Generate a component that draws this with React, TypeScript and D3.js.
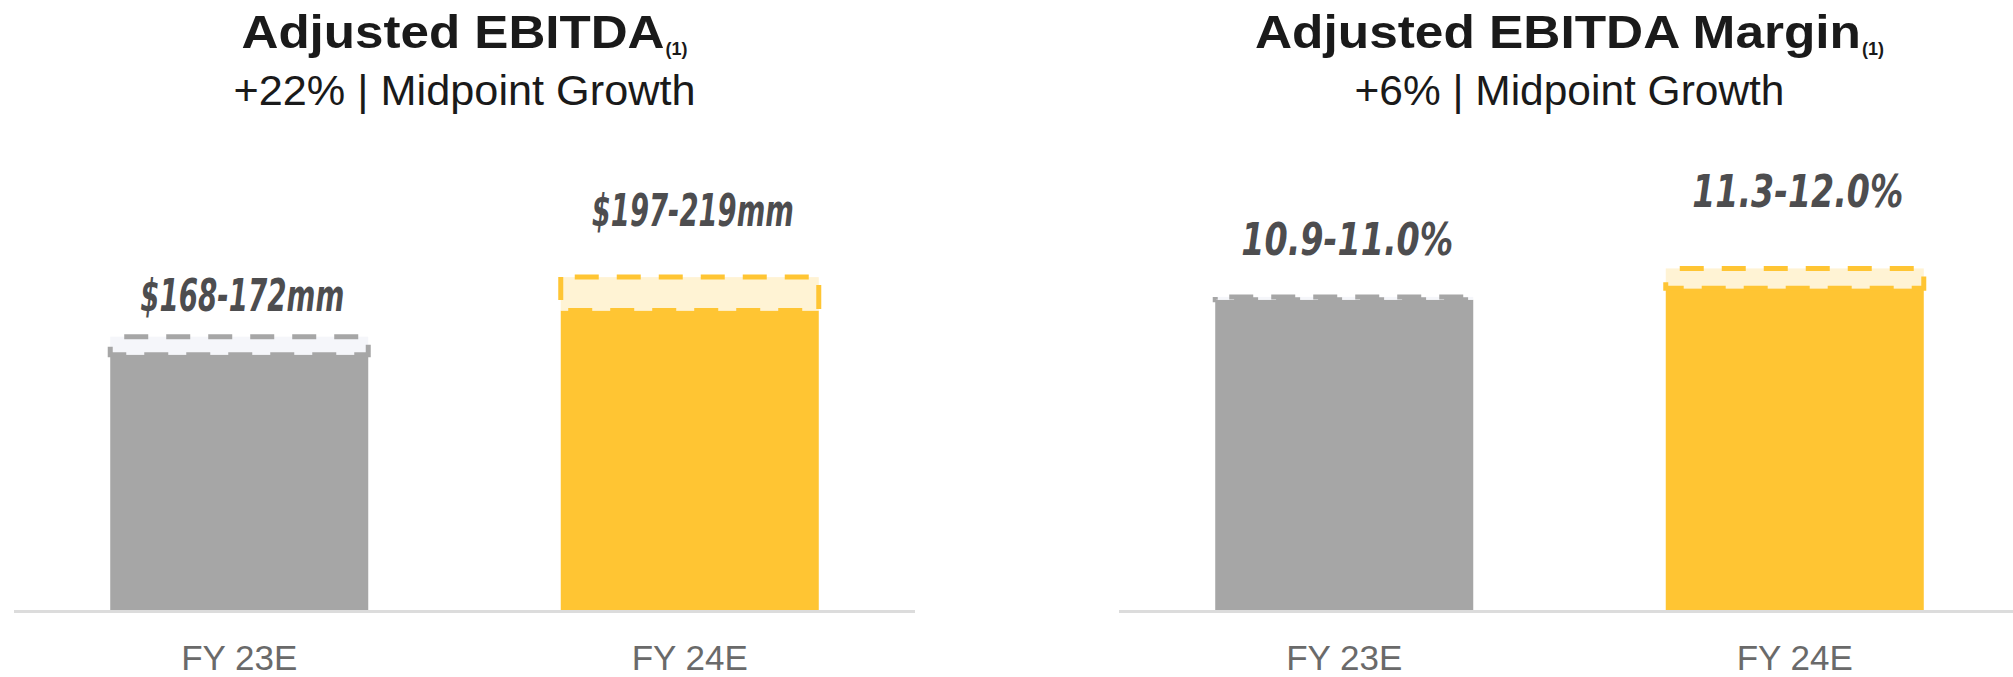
import React from "react";
import * as d3 from "d3";

// ---------- data ----------
const categories = ["FY 23E", "FY 24E"];

const ebitdaLow = [168, 197];
const ebitdaHigh = [172, 219];
const ebitdaLabels = ["$168-172mm", "$197-219mm"];

const marginLow = [10.9, 11.3];
const marginHigh = [11.0, 12.0];
const marginLabels = ["10.9-11.0%", "11.3-12.0%"];

const titles = ["Adjusted EBITDA", "Adjusted EBITDA Margin"];
const subtitles = ["+22% | Midpoint Growth", "+6% | Midpoint Growth"];
const footnote = "(1)";

// ---------- styles ----------
const W = 2013;
const H = 677;
const barColors = ["#A6A6A6", "#FFC533"];
const boxFills = ["#F5F6FA", "#FFF3D4"];
const titleColor = "#1A1A1A";
const valueColor = "#4D4D4F";
const catColor = "#6A6A6A";
const axisColor = "#DCDCDC";
const sansFont = "'Liberation Sans', Arial, Helvetica, sans-serif";
const narrowFont =
  "'Liberation Sans Narrow', 'DejaVu Sans Condensed', 'Arial Narrow', 'Liberation Sans', sans-serif";

type PanelCfg = {
  low: number[];
  high: number[];
  labels: string[];
  title: string;
  subtitle: string;
  xRange: [number, number];
  yMax: number;
  minBoxPx: number;
  labelLift: number[];
  labelWidths: number[];
  titleWidth: number;
  subtitleWidth: number;
};

const BASE_Y = 610;
const TOP_Y = 230;

function Panel({ cfg }: { cfg: PanelCfg }) {
  const x = d3
    .scaleBand<string>()
    .domain(categories)
    .range(cfg.xRange)
    .paddingInner(0.4273)
    .paddingOuter(0.2136);
  const y = d3.scaleLinear().domain([0, cfg.yMax]).range([BASE_Y, TOP_Y]);
  const center = (cfg.xRange[0] + cfg.xRange[1]) / 2;
  const bw = x.bandwidth();

  const subW = 22;
  const titleTotal = cfg.titleWidth + 1 + subW;
  const titleLeft = center - titleTotal / 2;

  return (
    <g>
      {/* title */}
      <text
        x={titleLeft}
        y={48}
        fontFamily={sansFont}
        fontWeight="bold"
        fontSize={46}
        fill={titleColor}
        textLength={cfg.titleWidth}
        lengthAdjust="spacingAndGlyphs"
      >
        {cfg.title}
      </text>
      <text
        x={titleLeft + cfg.titleWidth + 1}
        y={55}
        fontFamily={sansFont}
        fontWeight="bold"
        fontSize={19}
        fill={titleColor}
        textLength={subW}
        lengthAdjust="spacingAndGlyphs"
      >
        {footnote}
      </text>
      <text
        x={center}
        y={105}
        textAnchor="middle"
        fontFamily={sansFont}
        fontSize={42}
        fill={titleColor}
        textLength={cfg.subtitleWidth}
        lengthAdjust="spacingAndGlyphs"
      >
        {cfg.subtitle}
      </text>

      {categories.map((c, i) => {
        const x0 = x(c) as number;
        const yLow = y(cfg.low[i]);
        const yHighRaw = y(cfg.high[i]);
        const yHigh = Math.min(yHighRaw, yLow - cfg.minBoxPx);
        return (
          <g key={c}>
            <rect
              x={x0}
              y={yLow}
              width={bw}
              height={BASE_Y - yLow}
              fill={barColors[i]}
            />
            <rect
              x={x0}
              y={yHigh}
              width={bw}
              height={yLow - yHigh}
              fill={boxFills[i]}
              stroke={barColors[i]}
              strokeWidth={5}
              strokeDasharray="24 18"
              strokeDashoffset={28}
            />
            <text
              x={x0 + bw / 2 + 3}
              y={yHigh - cfg.labelLift[i]}
              textAnchor="middle"
              fontFamily={narrowFont}
              fontWeight="bold"
              fontStyle="italic"
              fontSize={45}
              fill={valueColor}
              textLength={cfg.labelWidths[i]}
              lengthAdjust="spacingAndGlyphs"
            >
              {cfg.labels[i]}
            </text>
            <text
              x={x0 + bw / 2}
              y={670}
              textAnchor="middle"
              fontFamily={sansFont}
              fontSize={35}
              fill={catColor}
            >
              {c}
            </text>
          </g>
        );
      })}

      <line
        x1={cfg.xRange[0]}
        x2={cfg.xRange[1]}
        y1={BASE_Y + 1.5}
        y2={BASE_Y + 1.5}
        stroke={axisColor}
        strokeWidth={3}
      />
    </g>
  );
}

const panels: PanelCfg[] = [
  {
    low: ebitdaLow,
    high: ebitdaHigh,
    labels: ebitdaLabels,
    title: titles[0],
    subtitle: subtitles[0],
    xRange: [14, 915],
    yMax: 250,
    minBoxPx: 18,
    labelLift: [25.5, 51],
    labelWidths: [204, 202],
    titleWidth: 423,
    subtitleWidth: 462,
  },
  {
    low: marginLow,
    high: marginHigh,
    labels: marginLabels,
    title: titles[1],
    subtitle: subtitles[1],
    xRange: [1119, 2020],
    yMax: 13.35,
    minBoxPx: 0,
    labelLift: [42, 61.5],
    labelWidths: [212, 211],
    titleWidth: 606,
    subtitleWidth: 430,
  },
];

export default function App() {
  return (
    <svg
      width={W}
      height={H}
      viewBox={`0 0 ${W} ${H}`}
      style={{ position: "absolute", left: 0, top: 0, background: "#fff" }}
    >
      {panels.map((p, i) => (
        <Panel key={i} cfg={p} />
      ))}
    </svg>
  );
}
